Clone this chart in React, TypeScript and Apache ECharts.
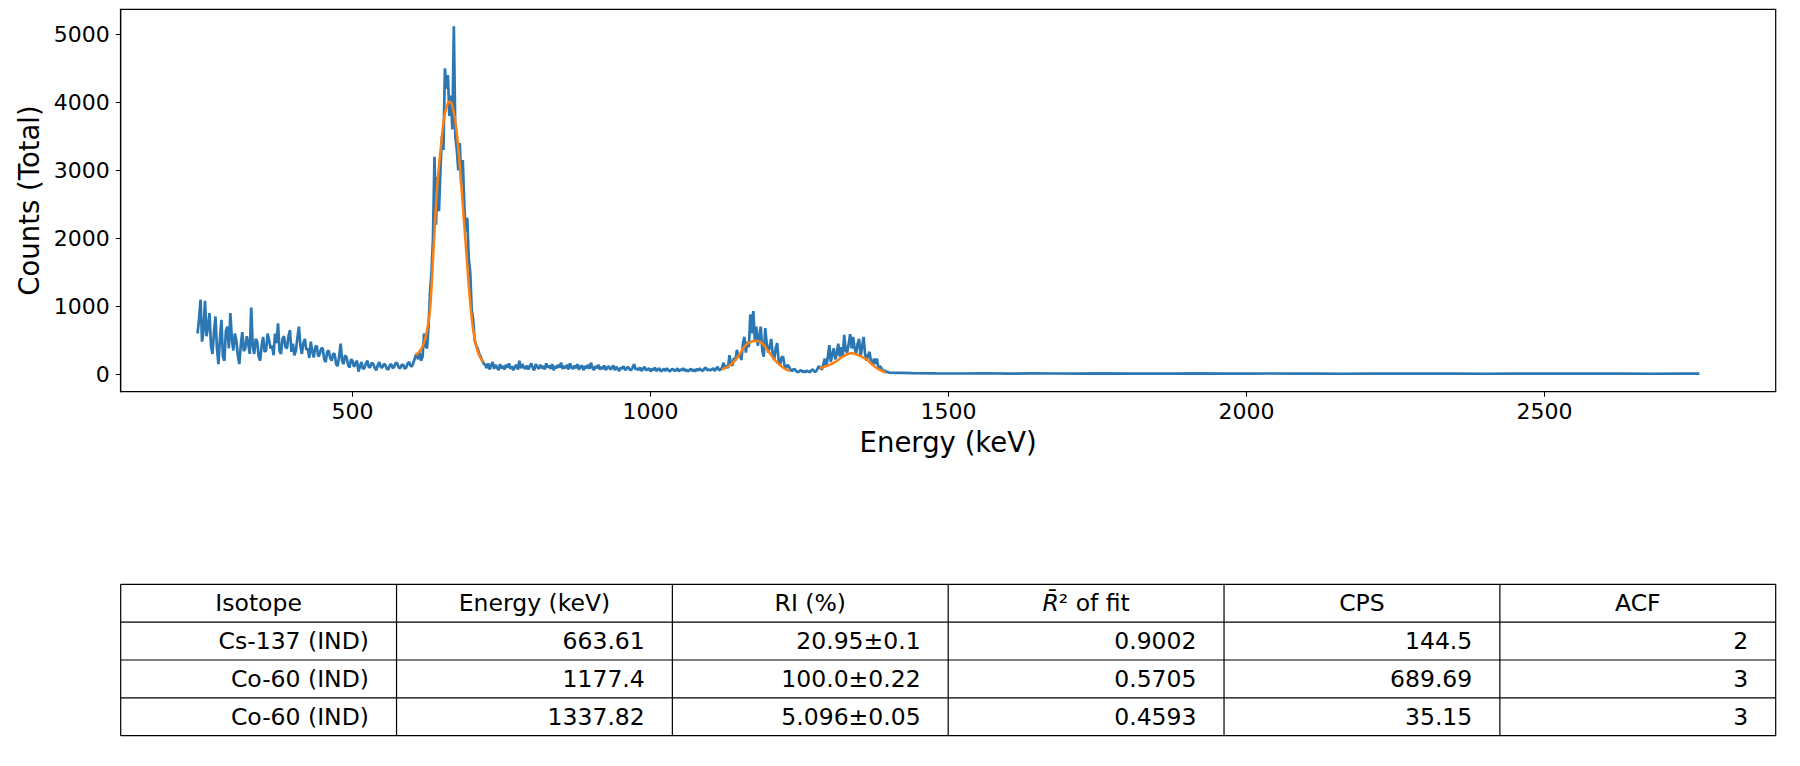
import React from 'react';
import * as echarts from 'echarts';

// spectrum bins, 2.5 keV wide, starting at 240 keV
const binStart = 240;
const binWidth = 2.5;

const countsLowEnergy = [
  600, 820, 1100, 480, 650, 1080, 560, 700, 900, 420,
  300, 620, 850, 380, 150, 520, 800, 260, 200, 640,
  700, 380, 900, 520, 350, 600, 500, 280, 150, 430,
  620, 340, 380, 560, 450, 300, 980, 420, 300, 520,
  480, 260, 200, 420, 550, 330, 350, 600, 500, 380,
  420, 280, 600, 460, 750, 340, 300, 520, 560, 400,
  380, 560, 650, 330, 450, 280, 350, 540, 700, 420,
  300, 460, 520, 360, 380, 240, 480, 330, 250, 400,
  420, 260, 300, 380, 380, 220, 180, 330, 350, 240,
  200, 300, 300, 150, 120, 260, 450, 200, 150, 280,
  250, 140, 100, 220, 200, 110, 160, 200, 40, 120,
  180, 80, 90, 160, 200, 100, 110, 170, 150, 90,
  60, 140, 180, 100, 100, 150, 140, 80, 70, 130,
  150, 90, 110, 170, 160, 100, 90, 140, 140, 80,
  100, 160, 180, 120, 120,
];

const countsCsPeak = [
  180, 250, 300, 220, 320, 200, 260, 600, 420, 380,
  700, 1200, 1500, 2000, 3200, 2200, 2900, 2400, 3000, 3500,
  3300, 4500, 4200, 4400, 3800, 4100, 3600, 5120, 3500, 3300,
  3000, 3400, 2800, 3150, 2500, 2100, 2300, 1700, 1500, 950,
  800, 500, 420, 380, 300, 260, 200, 160,
];

const countsContinuum = [
  140, 90, 160, 70, 130, 180, 80, 140, 100, 60,
  150, 90, 120, 70, 140, 100, 160, 80, 120, 60,
  110, 140, 70, 200, 90, 150, 100, 80, 130, 70,
  120, 160, 90, 60, 150, 110, 80, 140, 90, 120,
  70, 160, 100, 130, 80, 150, 60, 120, 90, 140,
  100, 170, 80, 120, 90, 140, 70, 160, 100, 80,
  130, 90, 150, 70, 110, 130, 60, 120, 90, 140,
  80, 170, 100, 60, 120, 90, 140, 70, 110, 80,
  130, 60, 100, 120, 70, 90, 130, 60, 110, 80,
  50, 100, 80, 120, 60, 90, 110, 70, 60, 100,
  150, 70, 90, 60, 100, 50, 80, 110, 60, 70,
  90, 40, 80, 60, 100, 50, 70, 90, 40, 60,
  80, 50, 90, 60, 40, 70, 80, 50, 60, 90,
  40, 70, 60, 90, 50, 70, 40, 60, 80, 50,
  70, 40, 80, 55, 90, 60, 50, 80, 100, 60,
  70, 60,
];

const countsCoPeaks = [
  70, 90, 50, 80, 110, 60, 70, 100, 170, 90,
  130, 90, 280, 150, 130, 240, 200, 360, 250, 300,
  210, 450, 550, 320, 480, 400, 880, 600, 930, 500,
  700, 420, 560, 700, 350, 260, 680, 450, 320, 400,
  520, 300, 210, 380, 460, 200, 140, 250, 260, 120,
  90, 140, 110, 70, 45, 80, 70, 40, 30, 50,
  60, 35, 45, 30, 55, 40, 30, 60, 70, 40,
  40, 80, 120, 90, 70, 150, 230, 120, 250, 430,
  180, 300, 380, 220, 300, 450, 260, 400, 260, 580,
  350, 320, 450, 590, 380, 550, 380, 300, 450, 520,
  260, 400, 550, 300, 200, 280, 330, 180, 140, 230,
  150, 230, 80, 120, 90, 40, 60, 30, 40, 25,
];

// flat tail above the Co-60 lines, 40 keV steps
const tailStart = 1440;
const tailStep = 40;
const countsTail = [
  18, 14, 12, 15, 10, 13, 12, 11, 14, 9, 12, 10, 13, 11, 9, 12, 10, 11, 8, 12,
  10, 9, 11, 10, 8, 12, 9, 10, 11, 9, 10, 8, 9, 10,
];

// gaussian fits
const csFitEnergy = [606, 612, 618, 624, 630, 636, 642, 648, 654, 660, 663, 666, 672, 678, 684, 690, 696, 702, 708, 714, 720];
const csFitCounts = [284, 330, 420, 600, 950, 1850, 2750, 3320, 3790, 3990, 4010, 3990, 3750, 3280, 2600, 1900, 1200, 680, 400, 250, 180];

const co1FitEnergy = [1120, 1130, 1140, 1150, 1157, 1165, 1177, 1187, 1196, 1205, 1213, 1224, 1234];
const co1FitCounts = [73, 115, 185, 300, 400, 465, 494, 460, 357, 250, 170, 88, 48];

const co2FitEnergy = [1284, 1295, 1308, 1320, 1330, 1337, 1345, 1355, 1364, 1372, 1380, 1388, 1395];
const co2FitCounts = [88, 120, 171, 245, 295, 309, 295, 255, 210, 145, 88, 50, 24];

const xTicks = [500, 1000, 1500, 2000, 2500];
const yTicks = [0, 1000, 2000, 3000, 4000, 5000];

// results table
const tableHeaders = ['Isotope', 'Energy (keV)', 'RI (%)', '{i|R\u0304}² of fit', 'CPS', 'ACF'];
const isotopes = ['Cs-137 (IND)', 'Co-60 (IND)', 'Co-60 (IND)'];
const peakEnergies = ['663.61', '1177.4', '1337.82'];
const riValues = ['20.95±0.1', '100.0±0.22', '5.096±0.05'];
const r2Values = ['0.9002', '0.5705', '0.4593'];
const cpsValues = ['144.5', '689.69', '35.15'];
const acfValues = ['2', '3', '3'];

const FONT = 'DejaVu Sans';
const PLOT_LEFT = 120.7;
const PLOT_TOP = 9.3;
const PLOT_W = 1655;
const PLOT_H = 382.4;
const TABLE_TOP = 584.3;
const ROW_H = 37.85;
const CELL_PAD = 0.1;
const TABLE_FONT = 23.5;

function pairs(xs: number[], ys: number[]) {
  return xs.map((x, i) => [x, ys[i]]);
}

function buildTable() {
  const cols = tableHeaders.length;
  const colW = PLOT_W / cols;
  const rows = [tableHeaders];
  for (let r = 0; r < isotopes.length; r++) {
    rows.push([isotopes[r], peakEnergies[r], riValues[r], r2Values[r], cpsValues[r], acfValues[r]]);
  }
  const els: any[] = [];
  const bottom = TABLE_TOP + ROW_H * rows.length;
  for (let r = 0; r <= rows.length; r++) {
    const y = TABLE_TOP + r * ROW_H;
    els.push({
      type: 'line',
      shape: { x1: PLOT_LEFT, y1: y, x2: PLOT_LEFT + PLOT_W, y2: y },
      style: { stroke: '#000', lineWidth: 1.2 },
    });
  }
  for (let c = 0; c <= cols; c++) {
    const x = PLOT_LEFT + c * colW;
    els.push({
      type: 'line',
      shape: { x1: x, y1: TABLE_TOP, x2: x, y2: bottom },
      style: { stroke: '#000', lineWidth: 1.2 },
    });
  }
  rows.forEach((row, r) => {
    row.forEach((txt, c) => {
      const header = r === 0;
      els.push({
        type: 'text',
        x: header ? PLOT_LEFT + (c + 0.5) * colW : PLOT_LEFT + (c + 1 - CELL_PAD) * colW,
        y: TABLE_TOP + (r + 0.5) * ROW_H,
        style: {
          text: txt,
          fontFamily: FONT,
          fontSize: TABLE_FONT,
          fill: '#000',
          align: header ? 'center' : 'right',
          verticalAlign: 'middle',
          rich: {
            i: { fontFamily: FONT, fontSize: TABLE_FONT, fontStyle: 'italic', fill: '#000' },
          },
        },
      });
    });
  });
  return els;
}

export default function App() {
  const chartRef = React.useRef<HTMLDivElement>(null);

  React.useEffect(() => {
    if (!chartRef.current) return;
    document.body.style.margin = '0';

    const chart = echarts.init(chartRef.current, undefined, { renderer: 'svg' });

    const counts = [...countsLowEnergy, ...countsCsPeak, ...countsContinuum, ...countsCoPeaks];
    const spectrum = counts
      .map((c, i) => [binStart + i * binWidth, c])
      .concat(countsTail.map((c, i) => [tailStart + i * tailStep, c]));

    const axisText = { fontFamily: FONT, fontSize: 22, color: '#000', formatter: (v: number) => String(v) };
    const fitStyle = { width: 2.5, color: '#ff7f0e' };

    const option: echarts.EChartsOption = {
      animation: false,
      grid: {
        left: PLOT_LEFT,
        top: PLOT_TOP,
        width: PLOT_W,
        height: PLOT_H,
        show: true,
        borderColor: '#000',
        borderWidth: 1.2,
      },
      xAxis: {
        type: 'value',
        min: 111,
        max: 2888,
        name: 'Energy (keV)',
        nameLocation: 'middle',
        nameGap: 36,
        nameTextStyle: { fontFamily: FONT, fontSize: 27.5, color: '#000' },
        axisLine: { show: true, onZero: false, lineStyle: { color: '#000', width: 1.2 } },
        axisTick: { show: true, length: 5, lineStyle: { color: '#000' }, customValues: xTicks },
        axisLabel: { ...axisText, margin: 9, customValues: xTicks },
        splitLine: { show: false },
      },
      yAxis: {
        type: 'value',
        min: -256,
        max: 5368,
        name: 'Counts (Total)',
        nameLocation: 'middle',
        nameRotate: 90,
        nameGap: 72,
        nameTextStyle: { fontFamily: FONT, fontSize: 27.5, color: '#000' },
        axisLine: { show: true, onZero: false, lineStyle: { color: '#000', width: 1.2 } },
        axisTick: { show: true, length: 5, lineStyle: { color: '#000' }, customValues: yTicks },
        axisLabel: { ...axisText, margin: 11, customValues: yTicks },
        splitLine: { show: false },
      },
      series: [
        {
          type: 'line',
          data: spectrum,
          symbol: 'none',
          silent: true,
          lineStyle: { width: 2.7, color: '#2a77b4' },
          z: 2,
        },
        { type: 'line', data: pairs(csFitEnergy, csFitCounts), symbol: 'none', smooth: 0.4, silent: true, lineStyle: fitStyle, z: 3 },
        { type: 'line', data: pairs(co1FitEnergy, co1FitCounts), symbol: 'none', smooth: 0.4, silent: true, lineStyle: fitStyle, z: 3 },
        { type: 'line', data: pairs(co2FitEnergy, co2FitCounts), symbol: 'none', smooth: 0.4, silent: true, lineStyle: fitStyle, z: 3 },
      ],
      graphic: buildTable(),
    };

    chart.setOption(option);

    return () => {
      chart.dispose();
    };
  }, []);

  return <div ref={chartRef} style={{ width: '1800px', height: '766px' }} />;
}
